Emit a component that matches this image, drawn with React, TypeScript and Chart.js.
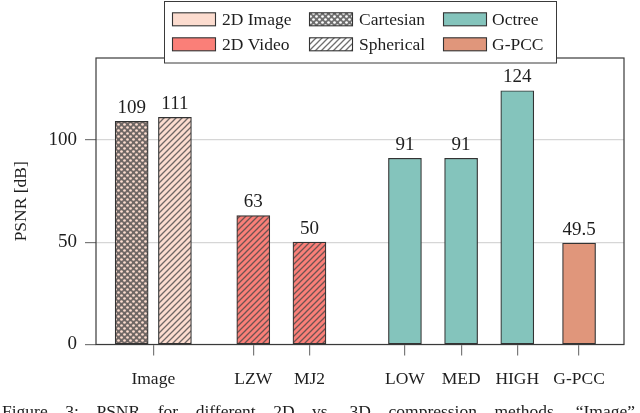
import React, { useEffect, useRef } from 'react';
import { Chart, registerables } from 'chart.js';

Chart.register(...registerables);

// ---- data ----
const categories = ['Image', 'LZW', 'MJ2', 'LOW', 'MED', 'HIGH', 'G-PCC'];
const categoryPositions = [1.02, 2.8, 3.8, 5.5, 6.5, 7.5, 8.6];
const yTickValues = [0, 50, 100];
const imageCartesian = [109]; // Image
const imageSpherical = [111]; // Image
const videoCategories = ['LZW', 'MJ2'];
const videoSpherical = [63, 50];
const octreeCategories = ['LOW', 'MED', 'HIGH'];
const octreeValues = [91, 91, 124];
const gpccCategories = ['G-PCC'];
const gpccValues = [49.5];
const legendLabels = ['2D Image', '2D Video', 'Cartesian', 'Spherical', 'Octree', 'G-PCC'];
const captionText = 'Figure 3: PSNR for different 2D vs. 3D compression methods. \u201cImage\u201d';

const SERIF = "'Liberation Serif', 'Times New Roman', serif";
const TEXT = '#1e1e1e';
const PEACH = '#FCDCCF';
const SALMON = '#FA7F78';
const TEAL = '#84C4BC';
const GPCC = '#E0967B';
const EDGE = '#333333';

const posOf = (c: string) => categoryPositions[categories.indexOf(c)];

function dotsPattern(base: string, ink: string) {
  const c = document.createElement('canvas');
  c.width = 6; c.height = 6;
  const g = c.getContext('2d')!;
  g.fillStyle = base; g.fillRect(0, 0, 6, 6);
  g.fillStyle = ink; g.fillRect(0, 0, 6, 6);
  g.fillStyle = base;
  g.beginPath(); g.arc(1.5, 1.5, 1.35, 0, Math.PI * 2); g.fill();
  g.beginPath(); g.arc(4.5, 4.5, 1.35, 0, Math.PI * 2); g.fill();
  return g.createPattern(c, 'repeat')!;
}

function linesPattern(base: string, ink: string) {
  const s = 6;
  const c = document.createElement('canvas');
  c.width = s; c.height = s;
  const g = c.getContext('2d')!;
  g.fillStyle = base; g.fillRect(0, 0, s, s);
  g.strokeStyle = ink; g.lineWidth = 1.3;
  g.beginPath();
  g.moveTo(0, s); g.lineTo(s, 0);
  g.moveTo(-1, 1); g.lineTo(1, -1);
  g.moveTo(s - 1, s + 1); g.lineTo(s + 1, s - 1);
  g.stroke();
  return g.createPattern(c, 'repeat')!;
}

export default function App() {
  const ref = useRef<HTMLCanvasElement>(null);

  useEffect(() => {
    const canvas = ref.current!;
    const INK = 'rgba(70,70,70,0.78)';
    const cartBar = dotsPattern(PEACH, INK);
    const sphImgBar = linesPattern(PEACH, INK);
    const sphVidBar = linesPattern(SALMON, INK);
    const cartLegend = dotsPattern('#ffffff', INK);
    const sphLegend = linesPattern('#ffffff', INK);

    const barCommon = {
      barThickness: 33,
      grouped: false,
      borderColor: EDGE,
      borderWidth: 1.2,
      borderSkipped: false,
    };

    const frameLegend = {
      id: 'frameLegend',
      afterDatasetsDraw(chart: any) {
        const ctx = chart.ctx;
        ctx.save();
        ctx.font = `19px ${SERIF}`;
        ctx.fillStyle = TEXT;
        ctx.textAlign = 'center';
        ctx.textBaseline = 'alphabetic';
        chart.data.datasets.forEach((ds: any, i: number) => {
          const meta = chart.getDatasetMeta(i);
          meta.data.forEach((el: any, j: number) => {
            ctx.fillText(String(ds.data[j].y), el.x, el.y - 8.3);
          });
        });
        ctx.restore();
      },
      afterDraw(chart: any) {
        const ctx = chart.ctx;
        const a = chart.chartArea;
        ctx.save();
        ctx.strokeStyle = '#3a3a3a';
        ctx.lineWidth = 1.2;
        ctx.strokeRect(a.left, a.top, a.right - a.left, a.bottom - a.top);

        // legend box
        ctx.fillStyle = '#ffffff';
        ctx.fillRect(164.5, 1.5, 392, 61.5);
        ctx.strokeStyle = '#3a3a3a';
        ctx.lineWidth = 1;
        ctx.strokeRect(164.5, 1.5, 392, 61.5);

        const swX = [172, 309, 443];
        const txX = [222, 359, 492];
        const rowY = [19.3, 44.3];
        const fills = [PEACH, SALMON, cartLegend, sphLegend, TEAL, GPCC];
        ctx.font = `17.5px ${SERIF}`;
        ctx.textBaseline = 'middle';
        ctx.textAlign = 'left';
        legendLabels.forEach((lab, k) => {
          const col = Math.floor(k / 2);
          const row = k % 2;
          const y = rowY[row];
          ctx.fillStyle = fills[k];
          ctx.fillRect(swX[col], y - 6.5, 43, 13);
          ctx.strokeStyle = EDGE;
          ctx.lineWidth = 1.1;
          ctx.strokeRect(swX[col] + 0.5, y - 6.5, 43, 13);
          ctx.fillStyle = TEXT;
          ctx.fillText(lab, txX[col], y + 1);
        });
        ctx.restore();
      },
    };

    const chart = new Chart(canvas, {
      type: 'bar',
      data: {
        datasets: [
          {
            label: 'Cartesian',
            data: imageCartesian.map((v) => ({ x: posOf('Image') - 0.385, y: v })),
            backgroundColor: cartBar,
            ...barCommon,
          },
          {
            label: 'Spherical 2D Image',
            data: imageSpherical.map((v) => ({ x: posOf('Image') + 0.385, y: v })),
            backgroundColor: sphImgBar,
            ...barCommon,
          },
          {
            label: 'Spherical 2D Video',
            data: videoSpherical.map((v, i) => ({ x: posOf(videoCategories[i]), y: v })),
            backgroundColor: sphVidBar,
            ...barCommon,
          },
          {
            label: 'Octree',
            data: octreeValues.map((v, i) => ({ x: posOf(octreeCategories[i]), y: v })),
            backgroundColor: TEAL,
            ...barCommon,
          },
          {
            label: 'G-PCC',
            data: gpccValues.map((v, i) => ({ x: posOf(gpccCategories[i]), y: v })),
            backgroundColor: GPCC,
            ...barCommon,
          },
        ] as any,
      },
      options: {
        responsive: false,
        animation: false,
        layout: { padding: { top: 58, right: 16, left: 0, bottom: 0 } },
        plugins: { legend: { display: false }, tooltip: { enabled: false } },
        scales: {
          x: {
            type: 'linear',
            offset: false,
            min: 0,
            max: 9.4,
            afterBuildTicks: (s: any) => {
              s.ticks = categoryPositions.map((v) => ({ value: v }));
            },
            ticks: {
              autoSkip: false,
              maxRotation: 0,
              minRotation: 0,
              padding: 13,
              color: TEXT,
              font: { family: SERIF, size: 17.5 },
              callback: (_v: any, i: number) => categories[i],
            },
            grid: { offset: false, drawOnChartArea: false, tickLength: 11, tickColor: '#7a7a7a', lineWidth: 1.2 },
            border: { display: false },
            afterFit: (s: any) => { s.height = 68.5; },
          },
          y: {
            min: 0,
            max: 140,
            afterBuildTicks: (s: any) => {
              s.ticks = yTickValues.map((v) => ({ value: v }));
            },
            ticks: { padding: 8, color: TEXT, font: { family: SERIF, size: 19 } },
            grid: { color: '#d6d6d6', tickColor: '#7a7a7a', tickLength: 11, lineWidth: 1.2 },
            border: { display: false },
            title: {
              display: true,
              text: 'PSNR [dB]',
              color: TEXT,
              font: { family: SERIF, size: 17.5 },
              padding: { top: 11, bottom: 0 },
            },
            afterFit: (s: any) => { s.width = 96; },
          },
        },
      } as any,
      plugins: [frameLegend],
    });
    return () => chart.destroy();
  }, []);

  return (
    <div style={{ position: 'fixed', left: 0, top: 0, width: 640, height: 413, overflow: 'hidden', background: '#fff' }}>
      <canvas ref={ref} width={640} height={413} style={{ position: 'absolute', left: 0, top: 0 }} />
      <div
        style={{
          position: 'absolute',
          left: 2,
          top: 400.6,
          width: 633,
          fontFamily: SERIF,
          fontSize: 17.5,
          lineHeight: '20px',
          color: TEXT,
          textAlign: 'justify',
          textAlignLast: 'justify' as any,
        }}
      >
        {captionText}
      </div>
    </div>
  );
}
